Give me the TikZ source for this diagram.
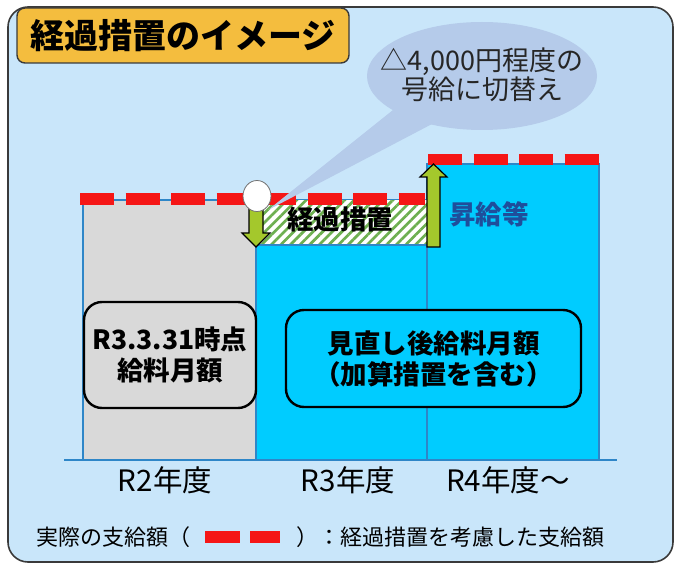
\documentclass[tikz,border=0pt]{standalone}
\usepackage{fontspec}
\setmainfont{Noto Sans CJK JP}
\usetikzlibrary{patterns.meta,shapes.geometric}
\definecolor{outerbg}{HTML}{C9E6FA}
\definecolor{outerline}{HTML}{3A3A3A}
\definecolor{titlebg}{HTML}{F4BD3E}
\definecolor{cyanbar}{HTML}{00CCFF}
\definecolor{graybar}{HTML}{D9D9D9}
\definecolor{barline}{HTML}{2E86C8}
\definecolor{dashred}{HTML}{F51616}
\definecolor{arrowgreen}{HTML}{A4C82C}
\definecolor{hatchgreen}{HTML}{6DAF50}
\definecolor{bubblecol}{HTML}{B5CBEA}
\definecolor{raisecol}{HTML}{1F4E9B}
\tikzset{
  bar/.style={draw=barline, line width=1.2pt},
  dashline/.style={draw=dashred, line width=12pt, dash pattern=on 34pt off 11.5pt},
  blockarrow/.style={draw=black, line width=1.2pt, fill=arrowgreen, line join=miter},
  labelbox/.style={draw=black, line width=2.4pt, rounded corners=18pt, inner sep=0pt, align=center, font=\fontsize{26.5}{31}\selectfont\bfseries},
  txt/.style={inner sep=0pt, align=center},
}
\begin{document}
\begin{tikzpicture}[x=1pt,y=-1pt]
\useasboundingbox (0,0) rectangle (683,564);
% outer panel
\draw[fill=outerbg, draw=outerline, line width=1.6pt, rounded corners=20pt] (8,7) rectangle (673,562);
% bars
\draw[bar, fill=graybar] (83,200) rectangle (256,460);
\draw[bar, fill=cyanbar] (256,245) rectangle (427,460);
\draw[bar, fill=cyanbar] (427,164) rectangle (599,460);
\fill[white] (256,200) rectangle (427,245);
\fill[pattern={Lines[angle=45, distance=6.8pt, line width=2.7pt]}, pattern color=hatchgreen] (256,200) rectangle (427,245);
\draw[barline, line width=1pt] (256,200) rectangle (427,245);
% baseline
\draw[barline, line width=2pt] (64,460) -- (617,460);
% actual payment dashes
\draw[dashline] (80,199) -- (425,199);
\draw[dashline, line width=11pt] (428,159.5) -- (599,159.5);
% callout bubble
\fill[bubblecol] (482,76) ellipse [x radius=115, y radius=54];
\fill[bubblecol] (393,110) -- (268,210) -- (432,124) -- cycle;
\node[txt, font=\fontsize{27}{27}\selectfont, text=black!85] (bubtext) at (482,75) {△4,000円程度の\\号給に切替え};
% arrows
\draw[blockarrow] (249,205) -- (263,205) -- (263,233) -- (270,233) -- (256,247) -- (242,233) -- (249,233) -- cycle;
\draw[blockarrow] (427,247) -- (440,247) -- (440,177) -- (447,177) -- (433.5,164) -- (420,177) -- (427,177) -- cycle;
% point circle
\node[ellipse, draw=black!55, line width=0.8pt, fill=white, minimum width=28pt, minimum height=31pt, inner sep=0pt] (pt) at (257,196) {};
% labels on bars
\node[txt, font=\fontsize{26.5}{28}\selectfont\bfseries] (keika) at (340,219) {経過措置};
\node[txt, font=\fontsize{26.5}{28}\selectfont\bfseries, text=raisecol] (raise) at (489,214) {昇給等};
\node[labelbox, fill=graybar, minimum width=172pt, minimum height=106pt] (oldbox) at (170,355) {R3.3.31時点\\給料月額};
\node[labelbox, fill=cyanbar, minimum width=295pt, minimum height=97pt] (newbox) at (433.5,358.5) {見直し後給料月額\\（加算措置を含む）};
% years
\node[txt, font=\fontsize{29.5}{30}\selectfont] (y2) at (165,480) {R2年度};
\node[txt, font=\fontsize{29.5}{30}\selectfont] (y3) at (348,480) {R3年度};
\node[txt, font=\fontsize{29.5}{30}\selectfont] (y4) at (508,480) {R4年度～};
% legend
\node[txt, anchor=west, font=\fontsize{22}{24}\selectfont] (leg1) at (36,537) {実際の支給額（};
\fill[dashred] (205,531) rectangle (240,543);
\fill[dashred] (250,531) rectangle (280,543);
\node[txt, anchor=east, font=\fontsize{22}{24}\selectfont] (leg2) at (605,537) {）：経過措置を考慮した支給額};
% title
\node[draw=outerline, line width=1.4pt, fill=titlebg, rounded corners=8pt, minimum width=332pt, minimum height=55pt, inner sep=0pt, font=\fontsize{34}{36}\selectfont\bfseries] (title) at (183,35.5) {経過措置のイメージ};
\end{tikzpicture}
\end{document}
